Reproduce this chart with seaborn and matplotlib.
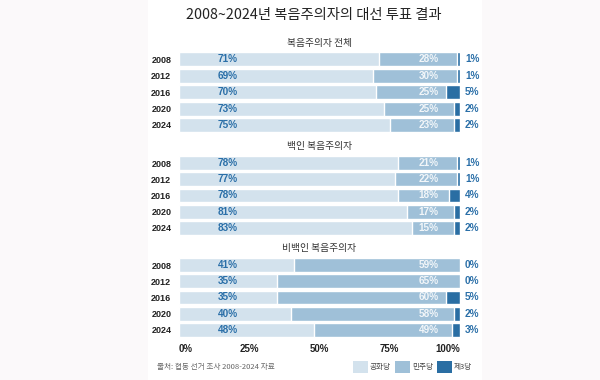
import matplotlib.pyplot as plt
import seaborn as sns
import pandas as pd
from matplotlib.patches import Patch, Rectangle

years = ["2008", "2012", "2016", "2020", "2024"]
panel_titles = ["복음주의자 전체", "백인 복음주의자", "비백인 복음주의자"]
rep = [[71, 69, 70, 73, 75], [78, 77, 78, 81, 83], [41, 35, 35, 40, 48]]
dem = [[28, 30, 25, 25, 23], [21, 22, 18, 17, 15], [59, 65, 60, 58, 49]]
third = [[1, 1, 5, 2, 2], [1, 1, 4, 2, 2], [0, 0, 5, 2, 3]]
parties = ["공화당", "민주당", "제3당"]
xticks = [0, 25, 50, 75, 100]

colors = ["#d3e2ed", "#9fc0d8", "#2a6ea3"]
label_blue = "#2a6fa8"
latin = ["Liberation Sans", "Noto Sans CJK KR"]
korean = ["Noto Sans CJK KR", "DejaVu Sans"]

sns.set_style("white")
plt.rcParams["font.family"] = latin

W, H = 600, 380
fig = plt.figure(figsize=(6, 3.8), dpi=100, facecolor="#fbf9fa")
fig.patches.append(Rectangle((148 / W, 0), (482 - 148) / W, 1, transform=fig.transFigure,
                             facecolor="white", edgecolor="none", zorder=-10))

# axes placement in pixels: (top, bottom)
boxes = [(51.1, 133.2), (154.9, 236.1), (256.9, 338.1)]

for k, (top, bot) in enumerate(boxes):
    ax = fig.add_axes([179 / W, 1 - bot / H, 281 / W, (bot - top) / H])
    ax.set_facecolor("none")
    df = pd.DataFrame({
        "year": years,
        "rep": rep[k],
        "rd": [r + d for r, d in zip(rep[k], dem[k])],
        "total": [r + d + t for r, d, t in zip(rep[k], dem[k], third[k])],
    })
    for col, c in zip(["total", "rd", "rep"], colors[::-1]):
        sns.barplot(data=df, x=col, y="year", orient="h", color=c, saturation=1,
                    width=0.86, errorbar=None, ax=ax, order=years)

    for i in range(len(years)):
        ax.text(17.4, i, f"{rep[k][i]}%", ha="center", va="center", color=label_blue,
                fontsize=7.2, fontweight="bold")
        ax.text(88.8, i, f"{dem[k][i]}%", ha="center", va="center", color="#f2f6f9",
                fontsize=7.2, fontweight="bold")
        ax.text(101.8, i, f"{third[k][i]}%", ha="left", va="center", color=label_blue,
                fontsize=7.2, fontweight="bold", clip_on=False)

    ax.set_xlim(0, 100)
    ax.set_xlabel("")
    ax.set_ylabel("")
    ax.set_title(panel_titles[k], fontsize=7, family=korean, color="#333333", pad=4)
    ax.tick_params(axis="y", length=0, pad=5.5, labelsize=6.5, labelcolor="#222222")
    for lab in ax.get_yticklabels():
        lab.set_fontweight("bold")
    sns.despine(ax=ax, left=True, bottom=True)

    if k == 2:
        ax.set_xticks(xticks)
        ax.set_xticklabels([f"{v}%" for v in xticks], fontsize=7, fontweight="bold",
                           color="#222222")
        ax.tick_params(axis="x", length=0, pad=4)
        labs = ax.get_xticklabels()
        labs[0].set_ha("left")
        labs[-1].set_ha("right")
    else:
        ax.set_xticks([])

fig.text(314 / W, 1 - 15 / H, "2008~2024년 복음주의자의 대선 투표 결과", ha="center", va="center",
         fontsize=10.3, family=korean, color="#222222")
fig.text(157 / W, 1 - 367 / H, "출처: 협동 선거 조사 2008-2024 자료", ha="left", va="center",
         fontsize=5.5, family=korean, color="#666666")

handles = [Patch(facecolor=c, edgecolor="none") for c in colors]
leg = fig.legend(handles, parties, ncol=3, loc="center right",
                 bbox_to_anchor=(472 / W, 1 - 367 / H), frameon=False,
                 handlelength=1.85, handleheight=1.85, handletextpad=0.3,
                 columnspacing=0.6, borderaxespad=0, borderpad=0,
                 prop={"family": korean, "size": 5.5})
for t in leg.get_texts():
    t.set_color("#444444")

fig.savefig("out.png", dpi=100, facecolor=fig.get_facecolor())
